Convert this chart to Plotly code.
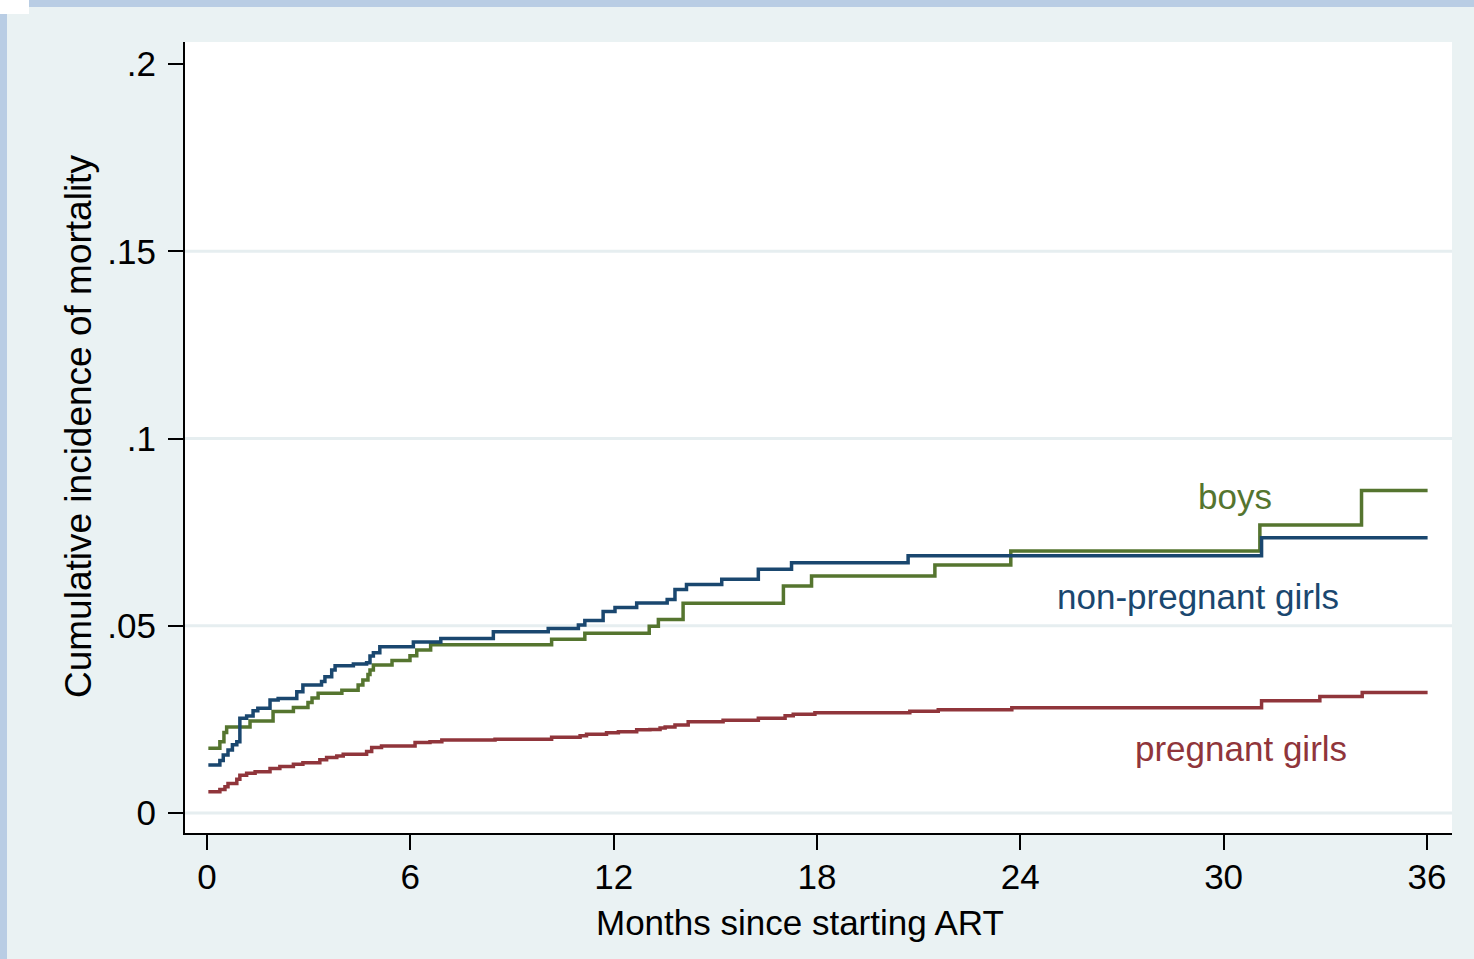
import plotly.graph_objects as go

# ---- data (months since ART start, cumulative incidence) ----
boys_t = [0.04, 0.38, 0.50, 0.58, 1.27, 1.95, 2.55, 2.98, 3.10, 3.28, 3.98, 4.46, 4.60, 4.75,
          4.81, 4.91, 5.46, 5.99, 6.19, 6.60, 10.17, 11.15, 13.05, 13.32, 14.05, 17.01, 17.84,
          21.48, 23.72, 31.07, 34.07, 36.02]
boys_v = [0.0173, 0.0190, 0.0215, 0.0230, 0.0246, 0.0271, 0.0282, 0.0295, 0.0307, 0.0320, 0.0328,
          0.0342, 0.0355, 0.0370, 0.0382, 0.0395, 0.0407, 0.0420, 0.0435, 0.0449, 0.0464, 0.0480,
          0.0499, 0.0517, 0.0560, 0.0606, 0.0633, 0.0662, 0.0700, 0.0769, 0.0861, 0.0861]

npg_t = [0.04, 0.38, 0.48, 0.62, 0.75, 0.88, 0.97, 1.17, 1.36, 1.50, 1.86, 2.10, 2.65, 2.83, 3.38,
         3.48, 3.68, 3.78, 4.32, 4.71, 4.81, 4.91, 5.10, 6.09, 6.90, 8.45, 10.07, 10.96, 11.15,
         11.69, 12.04, 12.68, 13.58, 13.81, 14.15, 15.19, 16.27, 17.25, 20.69, 31.12, 36.02]
npg_v = [0.0128, 0.0140, 0.0155, 0.0168, 0.0182, 0.0190, 0.0253, 0.0259, 0.0273, 0.0280, 0.0302,
         0.0306, 0.0324, 0.0342, 0.0351, 0.0364, 0.0382, 0.0393, 0.0398, 0.0401, 0.0419, 0.0428,
         0.0444, 0.0457, 0.0466, 0.0484, 0.0493, 0.0502, 0.0514, 0.0538, 0.0549, 0.0561, 0.0570,
         0.0597, 0.0610, 0.0624, 0.0651, 0.0668, 0.0687, 0.0735, 0.0735]

pg_t = [0.04, 0.38, 0.53, 0.62, 0.88, 0.97, 1.17, 1.42, 1.86, 2.15, 2.55, 2.83, 3.33, 3.53, 3.83,
        4.02, 4.71, 4.86, 5.15, 6.14, 6.58, 6.93, 8.50, 10.17, 11.01, 11.20, 11.79, 12.14, 12.68,
        13.07, 13.37, 13.52, 13.81, 14.20, 15.23, 16.27, 17.06, 17.30, 17.94, 20.74, 21.58, 23.75,
        31.12, 32.84, 34.09, 36.02]
pg_v = [0.0057, 0.0063, 0.0070, 0.0079, 0.0090, 0.0101, 0.0106, 0.0110, 0.0119, 0.0124, 0.0130,
        0.0134, 0.0142, 0.0148, 0.0152, 0.0157, 0.0164, 0.0175, 0.0179, 0.0188, 0.0190, 0.0195,
        0.0197, 0.0202, 0.0206, 0.0210, 0.0214, 0.0217, 0.0222, 0.0223, 0.0227, 0.0230, 0.0235,
        0.0244, 0.0248, 0.0253, 0.0260, 0.0264, 0.0268, 0.0272, 0.0276, 0.0281, 0.0300, 0.0311,
        0.0322, 0.0322]

x_ticks = [0, 6, 12, 18, 24, 30, 36]
y_ticks = [0, 0.05, 0.1, 0.15, 0.2]
y_ticktext = ["0", ".05", ".1", ".15", ".2"]
grid_vals = [0, 0.05, 0.1, 0.15]

series = [
    ("boys", boys_t, boys_v, "#55752f", 30.33, 0.0844),
    ("non-pregnant girls", npg_t, npg_v, "#1a476f", 29.24, 0.0577),
    ("pregnant girls", pg_t, pg_v, "#90353b", 30.51, 0.0171),
]

# ---- layout geometry (pixels) ----
W, H = 1474, 959
L, R, T, B = 185, 22, 42, 126
BG = "#eaf2f3"
GRID = "#e6eef0"
BAND = "#b9cde4"
FONT = "Liberation Sans, Arial, sans-serif"
FS = 35

fig = go.Figure()
for name, t, v, col, lx, ly in series:
    fig.add_trace(go.Scatter(x=t, y=v, mode="lines", line=dict(color=col, width=3.5, shape="hv"),
                             name=name, showlegend=False, hoverinfo="skip"))
    fig.add_annotation(x=lx, y=ly, xref="x", yref="y", text=name, showarrow=False,
                       font=dict(family=FONT, size=FS, color=col))

pw, ph = W - L - R, H - T - B
def px(xp):
    return (xp - L) / pw
def py(yp):
    return (H - B - yp) / ph

# axis titles as text
fig.add_annotation(x=px(78), y=py(427), xref="paper", yref="paper", xanchor="center",
                   yanchor="middle", text="Cumulative incidence of mortality", textangle=-90,
                   showarrow=False, font=dict(family=FONT, size=37, color="black"))
fig.add_annotation(x=px(800), y=py(922), xref="paper", yref="paper", xanchor="center",
                   yanchor="middle", text="Months since starting ART",
                   showarrow=False, font=dict(family=FONT, size=FS, color="black"))

shapes = []
# grid lines
for g in grid_vals:
    shapes.append(dict(type="line", xref="paper", yref="y", x0=0, x1=1, y0=g, y1=g,
                       line=dict(color=GRID, width=3), layer="below"))
# outer frame bands
shapes.append(dict(type="rect", xref="paper", yref="paper", x0=px(29), x1=px(W), y0=py(7), y1=py(0),
                   fillcolor=BAND, line=dict(width=0), layer="below"))
shapes.append(dict(type="rect", xref="paper", yref="paper", x0=px(0), x1=px(29), y0=py(14), y1=py(0),
                   fillcolor="white", line=dict(width=0), layer="below"))
shapes.append(dict(type="rect", xref="paper", yref="paper", x0=px(0), x1=px(7), y0=py(H), y1=py(14),
                   fillcolor=BAND, line=dict(width=0), layer="below"))

fig.update_layout(
    width=W, height=H,
    margin=dict(l=L, r=R, t=T, b=B),
    paper_bgcolor=BG, plot_bgcolor="white",
    shapes=shapes,
    font=dict(family=FONT, color="black"),
    xaxis=dict(range=[-0.649, 36.74], tickvals=x_ticks, showgrid=False, zeroline=False,
               showline=True, linecolor="black", linewidth=2, ticks="outside", ticklen=15,
               tickwidth=2, tickcolor="black", tickfont=dict(size=FS, family=FONT),
               ticklabelstandoff=-3),
    yaxis=dict(range=[-0.00534, 0.2059], tickvals=y_ticks, ticktext=y_ticktext, showgrid=False,
               zeroline=False, showline=True, linecolor="black", linewidth=2, ticks="outside",
               ticklen=15, tickwidth=2, tickcolor="black", tickfont=dict(size=FS, family=FONT),
               ticklabelstandoff=5),
)

fig.write_html("out.html", config={"displayModeBar": False},
               post_script="document.body.style.margin='0';document.body.style.padding='0';")
